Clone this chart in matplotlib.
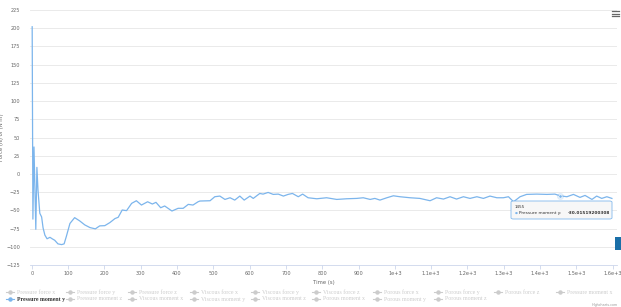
"""Force / moment history chart (Highcharts-style) rebuilt with matplotlib."""

from __future__ import annotations

import matplotlib

matplotlib.use("Agg")
import matplotlib.pyplot as plt
from matplotlib.lines import Line2D
from matplotlib.patches import FancyBboxPatch, Rectangle

W, H = 621, 307

# series data (Pressure moment y)
time_s = [
    1, 3, 6, 11, 14, 17, 22, 27, 31, 36, 42, 50, 56, 63, 72, 82, 89, 95, 105, 118,
    132, 146, 160, 175, 187, 201, 215, 229, 238, 249, 261, 275, 288, 302, 319, 332,
    342, 355, 366, 386, 403, 417, 431, 444, 458, 463, 491, 504, 518, 532, 546, 559,
    573, 585, 601, 610, 628, 637, 651, 665, 679, 693, 706, 718, 734, 746, 761, 785,
    812, 840, 867, 895, 913, 932, 945, 959, 978, 996, 1014, 1042, 1069, 1097, 1115,
    1134, 1152, 1170, 1189, 1207, 1226, 1244, 1262, 1281, 1299, 1313, 1327, 1345,
    1363, 1391, 1419, 1441, 1455, 1474, 1492, 1510, 1524, 1543, 1556, 1570, 1584, 1598,
]
moment_y = [
    202, -62, 37, -76, 9, -22, -54, -59, -74, -84, -89, -87, -89, -91, -96, -97, -96,
    -86, -68, -60, -64.5, -70, -73.6, -75.4, -71.3, -71, -66.8, -61.3, -59.5, -49.5,
    -50.4, -40.4, -36.8, -42.7, -38.2, -41.3, -39, -46.4, -44, -50.9, -47.2, -47.2,
    -41.8, -42.7, -38.2, -37.2, -36.8, -31.3, -30.4, -35, -32.7, -35.9, -30.4, -35.9,
    -30.4, -33.6, -26.8, -27.7, -25.4, -28.1, -27.7, -30.4, -28.1, -26.8, -31.3,
    -27.7, -32.7, -34.1, -32.7, -35, -34.1, -33.6, -32.7, -35, -33.6, -35.9, -32.7,
    -30, -31.3, -32.7, -33.6, -36.8, -32.7, -34.5, -31.3, -34.5, -31.3, -33.6, -31.3,
    -33.6, -30.4, -32.7, -32.7, -31.3, -38.2, -31.3, -28.1, -27.7, -28.1, -27.7,
    -30.01519200308, -31.3, -28.1, -32.2, -29.5, -35, -30.4, -33.6, -31.3, -33.6,
]

hover_label = "1455"
hover_time = 1455
hover_value = -30.01519200308

x_ticks = [0, 100, 200, 300, 400, 500, 600, 700, 800, 900, 1000, 1100, 1200, 1300, 1400, 1500, 1600]
x_tick_labels = ["0", "100", "200", "300", "400", "500", "600", "700", "800", "900",
                 "1e+3", "1.1e+3", "1.2e+3", "1.3e+3", "1.4e+3", "1.5e+3", "1.6e+3"]
y_ticks = [-125, -100, -75, -50, -25, 0, 25, 50, 75, 100, 125, 150, 175, 200, 225]

legend_row1 = ["Pressure force x", "Pressure force y", "Pressure force z", "Viscous force x",
               "Viscous force y", "Viscous force z", "Porous force x", "Porous force y",
               "Porous force z", "Pressure moment x"]
legend_row2 = ["Pressure moment y", "Pressure moment z", "Viscous moment x", "Viscous moment y",
               "Viscous moment z", "Porous moment x", "Porous moment y", "Porous moment z"]
active_series = "Pressure moment y"

LINE_COLOR = "#7cb5ec"
TEXT_COLOR = "#666666"
HIDDEN_COLOR = "#cccccc"


def px(x: float, y: float) -> tuple[float, float]:
    """Pixel position (top-left origin) to figure fraction."""
    return x / W, 1 - y / H


def draw_legend(fig: plt.Figure) -> None:
    """Two-row legend laid out like the Highcharts one."""
    columns = [10, 70, 132, 194, 255, 316, 377, 438, 498, 560]
    for row_y, names in ((292, legend_row1), (299, legend_row2)):
        for cx, name in zip(columns, names):
            active = name == active_series
            color = LINE_COLOR if active else HIDDEN_COLOR
            x0, y0 = px(cx - 4, row_y)
            x1, _ = px(cx + 4, row_y)
            fig.add_artist(Line2D([x0, x1], [y0, y0], color=color, lw=0.8))
            fig.add_artist(Line2D([(x0 + x1) / 2], [y0], marker="o", ms=2.2, color=color, mec=color))
            tx, ty = px(cx + 7, row_y)
            fig.text(tx, ty, name, fontsize=4.2, family="Liberation Serif", va="center", ha="left",
                     color="#333333" if active else HIDDEN_COLOR, weight="bold" if active else "normal")


def draw_tooltip(fig: plt.Figure) -> None:
    """Hover tooltip box in the lower right."""
    x0, y1 = px(511, 201)
    x1, y0 = px(612, 219)
    box = FancyBboxPatch((x0, y0), x1 - x0, y1 - y0, boxstyle="round,pad=0,rounding_size=0.004",
                         transform=fig.transFigure, facecolor="#f7f7f7", edgecolor=LINE_COLOR,
                         lw=0.6, alpha=0.95)
    fig.add_artist(box)
    tx, ty = px(515, 206.5)
    fig.text(tx, ty, hover_label, fontsize=3.0, color="#333333", va="center")
    bx, by = px(516.5, 213)
    fig.text(bx, by, "●", fontsize=2.4, color=LINE_COLOR, va="center", ha="center")
    lx, ly = px(519, 213)
    fig.text(lx, ly, "Pressure moment y:", fontsize=3.1, color="#333333", va="center")
    vx, vy = px(610, 213)
    fig.text(vx, vy, f"{hover_value}", fontsize=3.1, color="#333333", va="center", ha="right",
             weight="bold")


def main() -> int:
    fig = plt.figure(figsize=(W / 100, H / 100), dpi=100)
    left, top = px(30, 10)
    right, bottom = px(617, 265)
    ax = fig.add_axes([left, bottom, right - left, top - bottom])

    ax.plot(time_s, moment_y, color=LINE_COLOR, lw=0.9, solid_joinstyle="round", zorder=3)
    ax.plot([hover_time], [hover_value], "o", ms=5, color=LINE_COLOR, alpha=0.25, mec="none", zorder=4)
    ax.plot([hover_time], [hover_value], "o", ms=2.4, color=LINE_COLOR, mec="white", mew=0.4, zorder=5)

    ax.set_xlim(-5, 1612)
    ax.set_ylim(-125, 225)
    ax.set_xticks(x_ticks)
    ax.set_xticklabels(x_tick_labels)
    ax.set_yticks(y_ticks)
    ax.grid(axis="y", color="#e6e6e6", lw=0.6)
    ax.set_axisbelow(True)
    for side in ("top", "right", "left"):
        ax.spines[side].set_visible(False)
    ax.spines["bottom"].set_color("#ccd6eb")
    ax.spines["bottom"].set_linewidth(0.6)
    ax.tick_params(axis="x", colors="#ccd6eb", labelcolor=TEXT_COLOR, labelsize=3.6, length=3, width=0.6, pad=1.5)
    ax.tick_params(axis="y", length=0, labelcolor=TEXT_COLOR, labelsize=3.6, pad=7)

    ax.set_xlabel("Time (s)", fontsize=3.8, color=TEXT_COLOR, labelpad=3)
    ax.set_ylabel("Force (N) or (N m)", fontsize=3.8, color=TEXT_COLOR, labelpad=1.5)

    draw_legend(fig)
    draw_tooltip(fig)

    # export menu icon
    for yy in (11, 13.5, 16):
        a, b = px(612, yy)
        c, _ = px(619, yy)
        fig.add_artist(Line2D([a, c], [b, b], color="#666666", lw=0.9))

    # side tab on the right edge
    rx, ry = px(615, 250)
    fig.add_artist(Rectangle((rx, ry), 6 / W, 13 / H, transform=fig.transFigure,
                             facecolor="#1a6fa8", edgecolor="none"))

    cx, cy = px(618, 305)
    fig.text(cx, cy, "Highcharts.com", fontsize=2.4, color="#999999", ha="right", va="center")

    fig.savefig("out.png", dpi=100)
    plt.close(fig)
    return 0


if __name__ == "__main__":
    raise SystemExit(main())
